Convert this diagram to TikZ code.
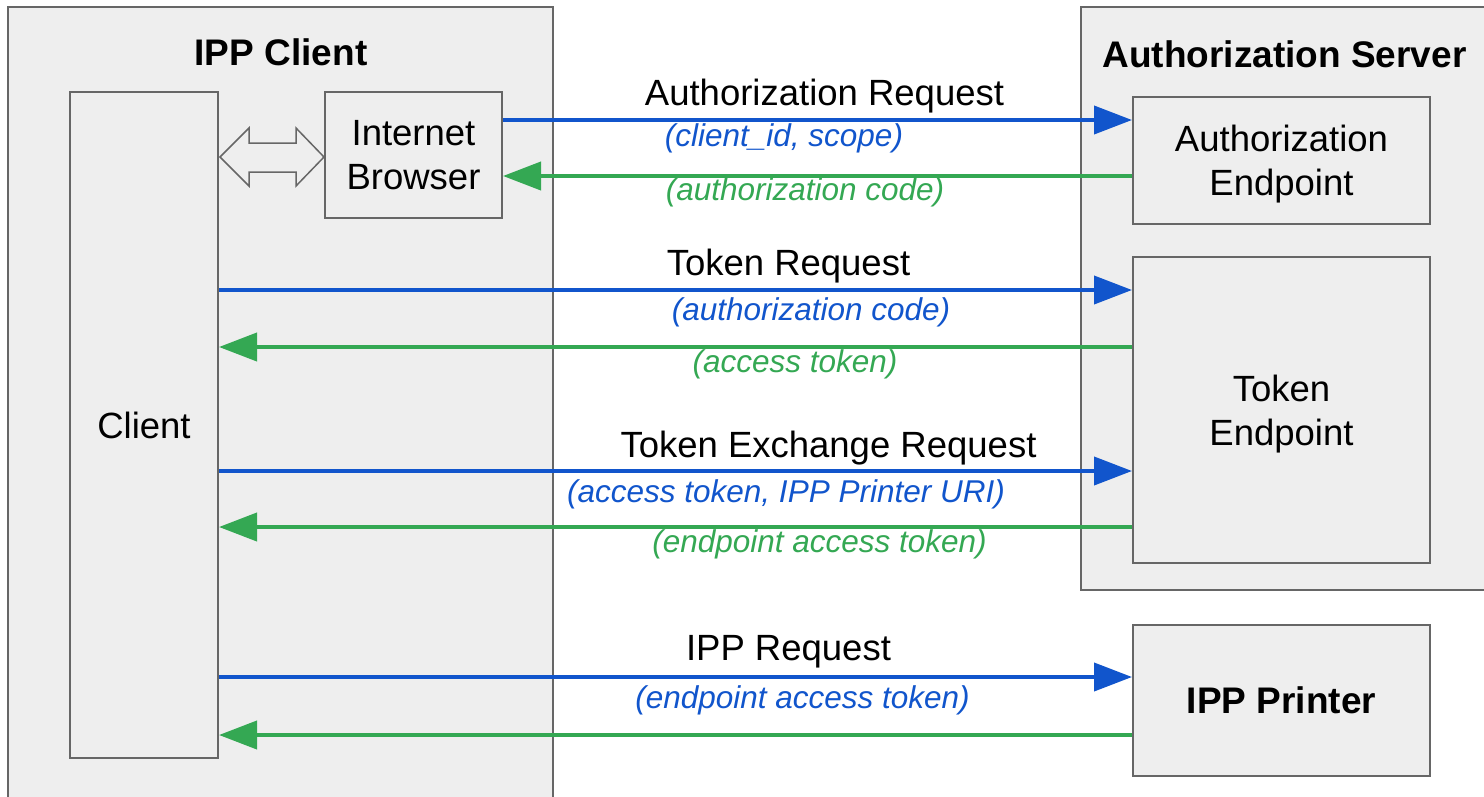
\documentclass[tikz,border=0pt]{standalone}
\usepackage{fontspec}
\setmainfont{Liberation Sans}
\usetikzlibrary{arrows.meta}
\definecolor{gblue}{HTML}{1155CC}
\definecolor{ggreen}{HTML}{34A853}
\definecolor{boxfill}{HTML}{EEEEEE}
\definecolor{boxline}{HTML}{666666}
\tikzset{
  frame/.style={fill=boxfill, draw=boxline, line width=2pt},
  box/.style={fill=boxfill, draw=boxline, line width=2pt, inner sep=0pt, align=center,
    text depth=0pt, font=\fontsize{36.5}{44}\selectfont},
  req/.style={gblue, line width=4pt, -{Triangle[length=38pt,width=28pt]}},
  resp/.style={ggreen, line width=4pt, -{Triangle[length=38pt,width=28pt]}},
  msg/.style={anchor=base, inner sep=0pt, font=\fontsize{36.5}{44}\selectfont},
  blab/.style={anchor=base, inner sep=0pt, text=gblue, font=\fontsize{31.5}{38}\selectfont\itshape},
  glab/.style={anchor=base, inner sep=0pt, text=ggreen, font=\fontsize{31.5}{38}\selectfont\itshape},
  ttl/.style={anchor=base, inner sep=0pt, font=\fontsize{37}{44}\selectfont\bfseries},
  dblarrow/.style={draw=boxline, line width=1.5pt, line join=miter},
}
\begin{document}
\begin{tikzpicture}[x=1pt, y=-1pt]
\useasboundingbox (0,0) rectangle (1484,796);
\fill[white] (0,0) rectangle (1484,796);
\clip (0,0) rectangle (1484,796);

% frames
\draw[frame] (8,7) rectangle (553,830);
\draw[frame] (1081,7) rectangle (1510,590);
\node[ttl] (tclient) at (281,65) {IPP Client};
\node[ttl] (tserver) at (1284.5,67) {Authorization Server};

% boxes
\node[box, minimum width=148pt, minimum height=666pt] (client) at (144,425) {Client};
\node[box, minimum width=177pt, minimum height=126pt] (browser) at (413.5,155) {Internet\\Browser};
\node[box, minimum width=297pt, minimum height=127pt] (authep) at (1281.5,160.5) {Authorization\\Endpoint};
\node[box, minimum width=297pt, minimum height=306pt] (tokenep) at (1281.5,410) {Token\\Endpoint};
\node[box, minimum width=297pt, minimum height=151pt, font=\fontsize{37}{44}\selectfont\bfseries] (printer) at (1281.5,700.5) {IPP Printer};

% double arrow between client and browser
\draw[dblarrow] (220,157) -- (249,128) -- (249,143) -- (296,143) -- (296,128) -- (324,157)
  -- (296,186) -- (296,172) -- (249,172) -- (249,186) -- cycle;

% authorization request / response
\draw[req] (browser.east |- 0,120) -- (authep.west |- 0,120);
\node[msg] (l1) at (824.5,105) {Authorization Request};
\node[blab] (l1b) at (784,146) {(client\_id, scope)};
\draw[resp] (authep.west |- 0,176) -- (browser.east |- 0,176);
\node[glab] (l2) at (805,200) {(authorization code)};

% token request / response
\draw[req] (client.east |- 0,290) -- (tokenep.west |- 0,290);
\node[msg] (l3) at (788.5,275) {Token Request};
\node[blab] (l3b) at (811,320) {(authorization code)};
\draw[resp] (tokenep.west |- 0,347) -- (client.east |- 0,347);
\node[glab] (l4) at (795,372) {(access token)};

% token exchange
\draw[req] (client.east |- 0,471) -- (tokenep.west |- 0,471);
\node[msg] (l5) at (828.5,457) {Token Exchange Request};
\node[blab] (l5b) at (786,502) {(access token, IPP Printer URI)};
\draw[resp] (tokenep.west |- 0,527) -- (client.east |- 0,527);
\node[glab] (l6) at (819.5,552) {(endpoint access token)};

% IPP request
\draw[req] (client.east |- 0,677) -- (printer.west |- 0,677);
\node[msg] (l7) at (788.5,660) {IPP Request};
\node[blab] (l7b) at (802.5,708) {(endpoint access token)};
\draw[resp] (printer.west |- 0,735) -- (client.east |- 0,735);
\end{tikzpicture}
\end{document}
